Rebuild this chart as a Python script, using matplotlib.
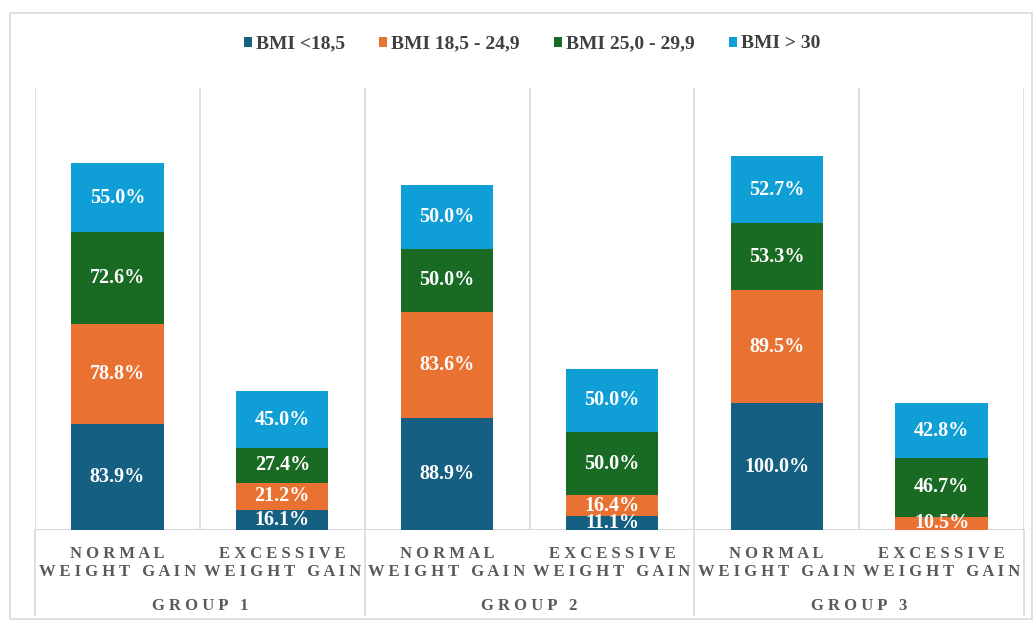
import matplotlib
matplotlib.use("Agg")
import matplotlib.pyplot as plt
from matplotlib.patches import Rectangle, Patch
from matplotlib.lines import Line2D
import matplotlib.transforms as mtransforms

plt.rcParams['font.family'] = ['Liberation Serif', 'DejaVu Serif']

groups = ["GROUP 1", "GROUP 2", "GROUP 3"]
subcats = ["NORMAL\nWEIGHT GAIN", "EXCESSIVE\nWEIGHT GAIN"]
series_names = ["BMI <18,5", "BMI 18,5 - 24,9", "BMI 25,0 - 29,9", "BMI > 30"]
colors = ["#156082", "#E97132", "#196B24", "#0F9ED5"]

bmi_lt_18_5 = [83.9, 16.1, 88.9, 11.1, 100.0, 0.0]
bmi_18_5_24_9 = [78.8, 21.2, 83.6, 16.4, 89.5, 10.5]
bmi_25_29_9 = [72.6, 27.4, 50.0, 50.0, 53.3, 46.7]
bmi_gt_30 = [55.0, 45.0, 50.0, 50.0, 52.7, 42.8]
series = [bmi_lt_18_5, bmi_18_5_24_9, bmi_25_29_9, bmi_gt_30]

W, H = 1034, 621
fig = plt.figure(figsize=(W / 100, H / 100), dpi=100)
ax_l, ax_r, ax_b, ax_t = 35, 1024, 530, 88
ax = fig.add_axes([ax_l / W, 1 - ax_b / H, (ax_r - ax_l) / W, (ax_b - ax_t) / H])

n = len(bmi_lt_18_5)
xs = [i + 0.5 for i in range(n)]
bottoms = [0.0] * n
for vals, col in zip(series, colors):
    ax.bar(xs, vals, width=0.56, bottom=bottoms, color=col, zorder=3)
    for x, v, b in zip(xs, vals, bottoms):
        if v > 0:
            ax.text(x, b + v / 2, f"{v:.1f}%", ha='center', va='center',
                    color='white', fontsize=14.5, fontweight='bold', zorder=4,
                    clip_on=True)
    bottoms = [b + v for b, v in zip(bottoms, vals)]

ax.set_xlim(0, n)
ax.set_ylim(0, 349.4)
for s in ax.spines.values():
    s.set_visible(False)
ax.set_xticks([])
ax.set_yticks([])

grid_col = "#d9d9d9"
for i in range(n + 1):
    ax.axvline(i, color=grid_col, lw=1.2, zorder=1)
ax.axhline(0, color=grid_col, lw=1.5, zorder=2)

trans = mtransforms.blended_transform_factory(ax.transData, ax.transAxes)
ybot = -(615 - ax_b) / (ax_b - ax_t)
for i in range(0, n + 1, 2):
    ax.add_line(Line2D([i, i], [0, ybot], transform=trans, color=grid_col,
                       lw=1.2, clip_on=False))


def spaced(s):
    return "\n".join("   ".join(" ".join(w) for w in line.split(" "))
                     for line in s.split("\n"))


lab_col = "#595959"
for i in range(n):
    ax.text(xs[i], -(563 - ax_b) / (ax_b - ax_t), spaced(subcats[i % 2]),
            transform=trans, ha='center', va='center', color=lab_col,
            fontsize=12, fontweight='bold', linespacing=1.2)
for g, name in enumerate(groups):
    ax.text(2 * g + 1, -(606 - ax_b) / (ax_b - ax_t), spaced(name),
            transform=trans, ha='center', va='center', color=lab_col,
            fontsize=12, fontweight='bold')

# outer frame
fig.patches.append(Rectangle((10 / W, 1 - 619 / H), (1032 - 10) / W, (619 - 13) / H,
                             transform=fig.transFigure, fill=False,
                             edgecolor="#d9d9d9", lw=1.2))

handles = [Patch(facecolor=c, edgecolor='none') for c in colors]
fig.legend(handles, series_names, loc='center', bbox_to_anchor=(532 / W, 1 - 44 / H),
           ncol=4, frameon=False, handlelength=0.42, handleheight=0.42,
           handletextpad=0.2, columnspacing=1.75,
           prop={'weight': 'bold', 'size': 14}, labelcolor="#404040")

fig.savefig("out.png", dpi=100)
